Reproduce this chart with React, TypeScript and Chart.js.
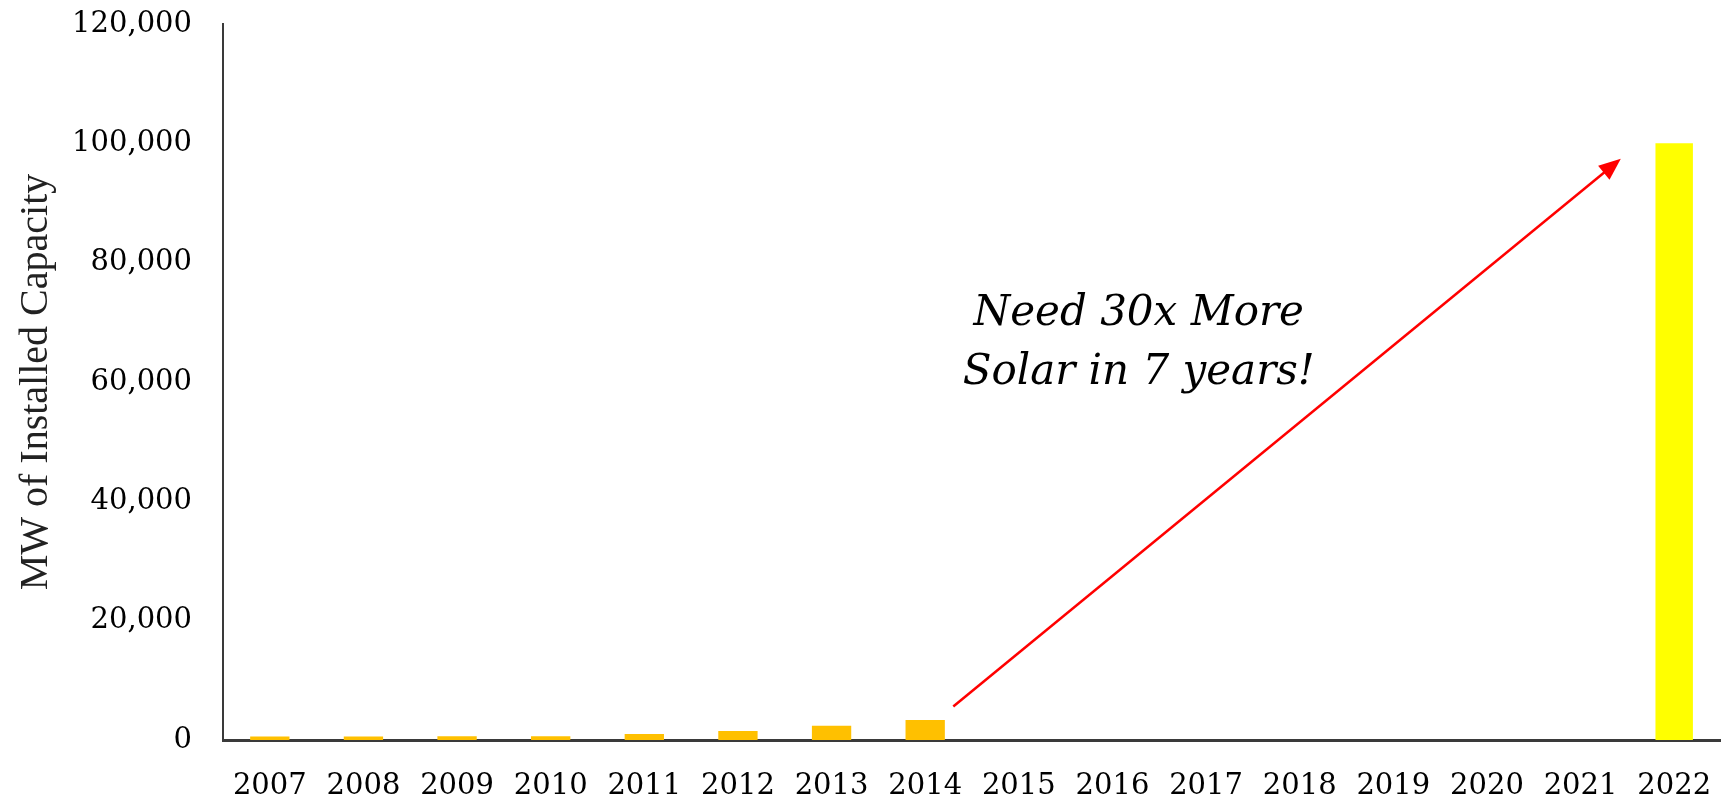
import React, { useEffect, useRef } from "react";
import { Chart, registerables } from "chart.js";

Chart.register(...registerables);

const years = ["2007", "2008", "2009", "2010", "2011", "2012", "2013", "2014", "2015", "2016", "2017", "2018", "2019", "2020", "2021", "2022"];
const installed = [600, 600, 620, 620, 1000, 1500, 2400, 3350, null, null, null, null, null, null, null, null];
const target = [null, null, null, null, null, null, null, null, null, null, null, null, null, null, null, 100000];
const yTicks = [0, 20000, 40000, 60000, 80000, 100000, 120000];
const annotationLines = ["Need 30x More", "Solar in 7 years!"];
// arrow endpoints in data space: [category index, MW]
const arrowFrom = [7.3, 5600];
const arrowTo = [14.43, 97400];
const textAnchor = [9.28, 66500];

const arrowPlugin = {
  id: "arrowNote",
  afterDraw(chart: any) {
    const { ctx, scales } = chart;
    const x = scales.x, y = scales.y;
    const x1 = x.getPixelForValue(arrowFrom[0]);
    const y1 = y.getPixelForValue(arrowFrom[1]);
    const x2 = x.getPixelForValue(arrowTo[0]);
    const y2 = y.getPixelForValue(arrowTo[1]);
    const ang = Math.atan2(y2 - y1, x2 - x1);
    const headLen = 22;
    const headW = 9;
    ctx.save();
    ctx.strokeStyle = "#ff0000";
    ctx.fillStyle = "#ff0000";
    ctx.lineWidth = 2.5;
    ctx.beginPath();
    ctx.moveTo(x1, y1);
    ctx.lineTo(x2 - Math.cos(ang) * headLen * 0.8, y2 - Math.sin(ang) * headLen * 0.8);
    ctx.stroke();
    ctx.beginPath();
    ctx.moveTo(x2, y2);
    const bx = x2 - Math.cos(ang) * headLen;
    const by = y2 - Math.sin(ang) * headLen;
    ctx.lineTo(bx + Math.sin(ang) * headW, by - Math.cos(ang) * headW);
    ctx.lineTo(bx - Math.sin(ang) * headW, by + Math.cos(ang) * headW);
    ctx.closePath();
    ctx.fill();

    const tx = x.getPixelForValue(textAnchor[0]);
    const ty = y.getPixelForValue(textAnchor[1]);
    ctx.fillStyle = "#000";
    ctx.font = "italic 42px 'DejaVu Serif'";
    ctx.textAlign = "center";
    ctx.textBaseline = "middle";
    const lh = 59;
    annotationLines.forEach((t, i) => {
      ctx.fillText(t, tx, ty + (i - (annotationLines.length - 1) / 2) * lh);
    });
    ctx.restore();
  },
};

export default function App() {
  const ref = useRef<HTMLCanvasElement>(null);
  useEffect(() => {
    document.body.style.margin = "0";
    document.body.style.overflow = "hidden";
    const chart = new Chart(ref.current as HTMLCanvasElement, {
      type: "bar",
      data: {
        labels: years,
        datasets: [
          { label: "Installed", data: installed, backgroundColor: "#ffc000", barPercentage: 0.42, categoryPercentage: 1 },
          { label: "Target", data: target, backgroundColor: "#ffff00", barPercentage: 0.4, categoryPercentage: 1 },
        ],
      },
      options: {
        responsive: false,
        animation: false,
        devicePixelRatio: 1,
        layout: { padding: { left: 10, top: 24, right: 0, bottom: 0 } },
        plugins: { legend: { display: false }, tooltip: { enabled: false } },
        datasets: { bar: { grouped: false } },
        scales: {
          x: {
            grid: { display: false, drawTicks: false },
            border: { display: true, color: "#3a3a3a", width: 3 },
            ticks: {
              color: "#000",
              font: { family: "'DejaVu Serif'", size: 29 },
              padding: 29,
              maxRotation: 0,
              autoSkip: false,
            },
            afterFit(scale: any) {
              scale.height = 58;
              scale.paddingLeft = 0;
              scale.paddingRight = 0;
            },
          },
          y: {
            min: 0,
            max: 120000,
            afterBuildTicks(scale: any) { scale.ticks = yTicks.map((v) => ({ value: v })); },
            grid: { display: false, drawTicks: false },
            border: { display: true, color: "#3a3a3a", width: 2 },
            ticks: {
              color: "#000",
              font: { family: "'DejaVu Serif'", size: 29 },
              padding: 31,
              callback: (v: any) => Number(v).toLocaleString("en-US"),
            },
            title: {
              display: true,
              text: "MW of Installed Capacity",
              color: "#222",
              font: { family: "'Liberation Serif'", size: 40 },
              padding: { top: 2, bottom: 0 },
            },
            afterFit(scale: any) {
              scale.width = 213;
              scale.paddingTop = 0;
              scale.paddingBottom = 0;
            },
          },
        },
      },
      plugins: [arrowPlugin],
    });
    return () => chart.destroy();
  }, []);
  return <canvas ref={ref} width={1721} height={798} style={{ display: "block" }} />;
}
